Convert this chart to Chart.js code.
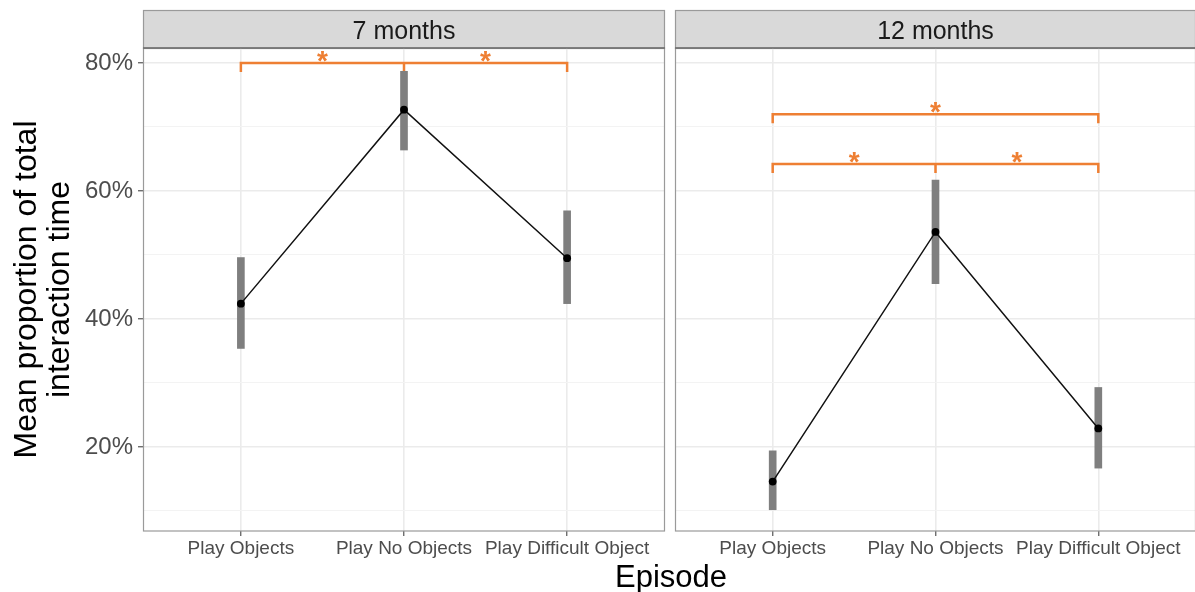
<!DOCTYPE html>
<html><head><meta charset="utf-8">
<script src="https://cdn.jsdelivr.net/npm/chart.js@4/dist/chart.umd.min.js"></script>
<style>
html,body{margin:0;padding:0;background:#fff;width:1195px;height:592px;overflow:hidden;position:relative;font-family:"Liberation Sans",Arial,sans-serif;}
#c1{position:absolute;left:0;top:0;}
#c2{position:absolute;left:670px;top:0;}
#xtitle{position:absolute;left:571px;width:200px;top:561px;text-align:center;font-size:31px;line-height:31px;color:#000;}
</style>
</head><body>
<canvas id="c1" width="670" height="592"></canvas>
<canvas id="c2" width="530" height="592"></canvas>
<div id="xtitle">Episode</div>
<script>
// ---- data ----
const categories = ['Play Objects', 'Play No Objects', 'Play Difficult Object'];
const panels = ['7 months', '12 months'];
const mean7  = [42.4, 72.7, 49.5];
const lower7 = [35.4, 66.4, 42.4];
const upper7 = [49.6, 78.7, 56.9];
const mean12  = [14.6, 53.6, 22.9];
const lower12 = [10.2, 45.5, 16.7];
const upper12 = [19.4, 61.7, 29.3];
const yTickValues = [10, 20, 30, 40, 50, 60, 70, 80];
const yMajor = [20, 40, 60, 80];
// significance comparisons (category positions 1..3) and bracket heights
const sig7From = [1, 2], sig7To = [2, 3], sig7Y = [80, 80];
const sig12From = [1, 1, 2], sig12To = [3, 2, 3], sig12Y = [72, 64.2, 64.2];
const yTitle = ['Mean proportion of total', 'interaction time'];

// ---- style ----
const FONT = '"Liberation Sans", Arial, sans-serif';
const ORANGE = '#EE7F33';
const Y_MIN = 6.875, Y_MAX = 82.34;
const BRACKET_TICK = 1.4;

function bracketData(from, to, ys) {
  const pts = [];
  for (let i = 0; i < from.length; i++) {
    pts.push({x: from[i], y: ys[i] - BRACKET_TICK});
    pts.push({x: from[i], y: ys[i]});
    pts.push({x: to[i], y: ys[i]});
    pts.push({x: to[i], y: ys[i] - BRACKET_TICK});
    pts.push({x: to[i], y: null});
  }
  return pts;
}

const panelPlugin = {
  id: 'panel',
  beforeDraw(chart) {
    const {ctx, chartArea: a} = chart;
    ctx.save();
    ctx.fillStyle = '#D9D9D9';
    ctx.fillRect(a.left, 10, a.right - a.left, a.top - 10);
    ctx.strokeStyle = '#9A9A9A';
    ctx.lineWidth = 1.2;
    ctx.strokeRect(a.left + 0.5, 10.5, a.right - a.left - 1, a.top - 10);
    ctx.fillStyle = '#1A1A1A';
    ctx.font = '25px ' + FONT;
    ctx.textAlign = 'center';
    ctx.textBaseline = 'alphabetic';
    ctx.fillText(chart.options.plugins.panel.label, (a.left + a.right) / 2, 39);
    ctx.restore();
  },
  afterDatasetsDraw(chart) {
    const {ctx} = chart;
    const o = chart.options.plugins.panel;
    const xs = chart.scales.x, ys = chart.scales.y;
    ctx.save();
    ctx.fillStyle = ORANGE;
    ctx.font = 'bold 28px ' + FONT;
    ctx.textAlign = 'center';
    ctx.textBaseline = 'alphabetic';
    for (let i = 0; i < o.from.length; i++) {
      const px = xs.getPixelForValue((o.from[i] + o.to[i]) / 2);
      const py = ys.getPixelForValue(o.ys[i]);
      ctx.fillText('*', px, py + 7);
    }
    ctx.restore();
  },
  afterDraw(chart) {
    const {ctx, chartArea: a} = chart;
    ctx.save();
    ctx.strokeStyle = '#9A9A9A';
    ctx.lineWidth = 1.2;
    ctx.strokeRect(a.left + 0.5, a.top, a.right - a.left - 1, a.bottom - a.top);
    ctx.strokeStyle = '#6E6E6E';
    ctx.lineWidth = 1.6;
    ctx.beginPath();
    ctx.moveTo(a.left, a.top);
    ctx.lineTo(a.right, a.top);
    ctx.stroke();
    ctx.restore();
  }
};

function makeChart(id, label, mean, lo, hi, from, to, ys, first) {
  const xy = (arr) => arr.map((v, i) => ({x: i + 1, y: v}));
  return new Chart(document.getElementById(id), {
    data: {
      datasets: [
        { type: 'line', data: xy(mean), borderColor: '#111', borderWidth: 1.5,
          pointRadius: 3.9, pointBackgroundColor: '#000', pointBorderWidth: 0, order: 0 },
        { type: 'bar', data: lo.map((v, i) => ({x: i + 1, y: [v, hi[i]]})),
          backgroundColor: '#7F7F7F', barThickness: 7, order: 1 },
        { type: 'line', data: bracketData(from, to, ys), borderColor: ORANGE, borderWidth: 2.5,
          pointRadius: 0, spanGaps: false, order: 2 }
      ]
    },
    options: {
      responsive: false, animation: false,
      layout: { padding: first ? {left: 0, right: 5, top: 48, bottom: 31} : {left: 5, right: 3, top: 48, bottom: 31} },
      plugins: { legend: {display: false}, tooltip: {enabled: false},
        panel: {label: label, from: from, to: to, ys: ys} },
      scales: {
        x: {
          type: 'linear', min: 0.4, max: 3.6, offset: false,
          afterBuildTicks: s => { s.ticks = categories.map((c, i) => ({value: i + 1})); },
          afterFit: s => { s.height = 30; },
          ticks: { callback: v => categories[v - 1], font: {family: FONT, size: 19}, color: '#4D4D4D',
                   padding: 1, autoSkip: false, maxRotation: 0 },
          grid: { offset: false, color: '#EBEBEB', lineWidth: 1.6, tickLength: 5, tickColor: '#333333', tickWidth: 1 },
          border: { display: false }
        },
        y: {
          type: 'linear', min: Y_MIN, max: Y_MAX,
          afterBuildTicks: s => { s.ticks = yTickValues.map(v => ({value: v})); },
          afterFit: s => { s.width = first ? 143 : 0; },
          ticks: { display: first, padding: 5, color: '#4D4D4D', font: {family: FONT, size: 24},
                   callback: v => yMajor.includes(v) ? v + '%' : '' },
          grid: {
            color: c => yMajor.includes(c.tick.value) ? '#EBEBEB' : '#F3F3F3',
            lineWidth: c => yMajor.includes(c.tick.value) ? 1.6 : 1,
            drawTicks: first, tickLength: 5,
            tickColor: c => yMajor.includes(c.tick.value) ? '#333333' : 'rgba(0,0,0,0)', tickWidth: 1
          },
          border: { display: false },
          title: first ? { display: true, text: yTitle, color: '#000',
                           font: {family: FONT, size: 32, lineHeight: 1.05}, padding: {top: 10, bottom: 0} }
                       : { display: false }
        }
      }
    },
    plugins: [panelPlugin]
  });
}

makeChart('c1', panels[0], mean7, lower7, upper7, sig7From, sig7To, sig7Y, true);
makeChart('c2', panels[1], mean12, lower12, upper12, sig12From, sig12To, sig12Y, false);
</script>
</body></html>
